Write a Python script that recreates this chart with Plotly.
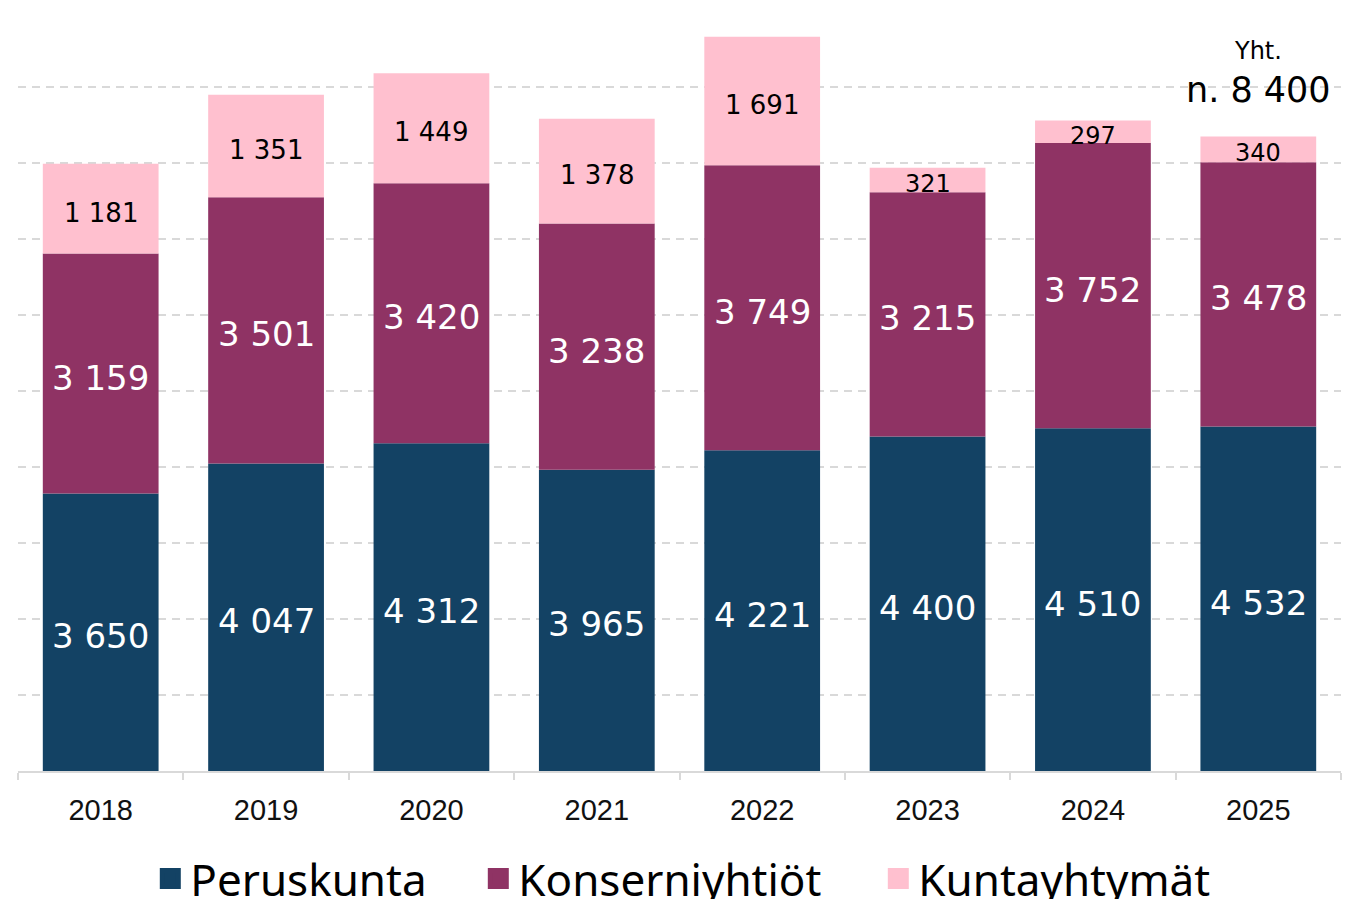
import plotly.graph_objects as go

years = [2018, 2019, 2020, 2021, 2022, 2023, 2024, 2025]
year_labels = ["2018", "2019", "2020", "2021", "2022", "2023", "2024", "2025"]
peruskunta = [3650, 4047, 4312, 3965, 4221, 4400, 4510, 4532]
konserniyhtiot = [3159, 3501, 3420, 3238, 3749, 3215, 3752, 3478]
kuntayhtymat = [1181, 1351, 1449, 1378, 1691, 321, 297, 340]
series_names = ["Peruskunta", "Konserniyhtiöt", "Kuntayhtymät"]
colors = ["#134264", "#8F3364", "#FFC0CF"]
total_note_title = "Yht."
total_note_value = "n. 8 400"

LABEL_FONT = "DejaVu Sans"
AXIS_FONT = "Liberation Sans"
LEGEND_FONT = "Noto Sans"


def fmt(v):
    return f"{v:,}".replace(",", " ")


fig = go.Figure()
series = [peruskunta, konserniyhtiot, kuntayhtymat]
base = [0] * len(years)
legend_widths = [283, 355, None]
for i, (name, vals) in enumerate(zip(series_names, series)):
    fig.add_trace(go.Bar(
        x=years, y=vals, base=base, name=name,
        width=0.7,
        marker=dict(color=colors[i], line=dict(width=0)),
        showlegend=False, hoverinfo="x+y+name",
    ))
    dark = i < 2
    for yr, b, v in zip(years, base, vals):
        size = 34 if dark else (26 if v > 600 else 24)
        fig.add_annotation(
            x=yr, y=b + v / 2, xref="x", yref="y", text=fmt(v),
            showarrow=False, yshift=-4,
            font=dict(family=LABEL_FONT, size=size, color="white" if dark else "black"),
        )
    base = [b + v for b, v in zip(base, vals)]

# legend entries (square symbols)
for i, name in enumerate(series_names):
    kw = {}
    if legend_widths[i]:
        kw["legendwidth"] = legend_widths[i]
    fig.add_trace(go.Scatter(
        x=[None], y=[None], mode="markers", name=name,
        marker=dict(symbol="square", size=16, color=colors[i],
                    line=dict(color=colors[i], width=5)),
        showlegend=True, hoverinfo="skip", **kw,
    ))

fig.add_annotation(x=years[-1], y=9470, xref="x", yref="y", text=total_note_title,
                   showarrow=False, font=dict(family=LABEL_FONT, size=24, color="black"))
fig.add_annotation(x=years[-1], y=8960, xref="x", yref="y", text=total_note_value,
                   showarrow=False, font=dict(family=LABEL_FONT, size=35, color="black"))

fig.update_layout(
    width=1342, height=891,
    barmode="overlay",
    plot_bgcolor="white",
    paper_bgcolor="white",
    margin=dict(l=10, r=9, t=3, b=128, autoexpand=False),
    font=dict(family=AXIS_FONT, color="black"),
    legend=dict(
        orientation="h", x=0.1, xanchor="left", y=-0.142, yanchor="middle",
        font=dict(family=LEGEND_FONT, size=44, color="black"),
        bgcolor="rgba(0,0,0,0)", traceorder="normal", borderwidth=0,
    ),
    xaxis=dict(
        type="linear", range=[years[0] - 0.5, years[-1] + 0.5],
        tickmode="array", tickvals=years, ticktext=year_labels,
        showline=True, linecolor="#d9d9d9", linewidth=2,
        ticks="outside", ticklen=12, tickcolor="rgba(0,0,0,0)",
        tickfont=dict(family=AXIS_FONT, size=29, color="#111111"),
        tickangle=0,
        showgrid=False, zeroline=False,
        minor=dict(tick0=years[0] - 0.5, dtick=1, ticks="outside", ticklen=7,
                   tickcolor="#d9d9d9", tickwidth=2, showgrid=False),
    ),
    yaxis=dict(
        range=[0, 10000], dtick=1000,
        showgrid=True, gridcolor="#d9d9d9", gridwidth=2, griddash="8px,6px",
        zeroline=False, showticklabels=False, ticks="",
    ),
)

fig.write_html("out.html")
